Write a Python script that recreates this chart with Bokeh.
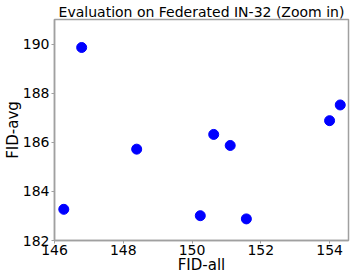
from bokeh.plotting import figure
from bokeh.models import Range1d, FixedTicker
from bokeh.embed import file_html
from bokeh.resources import INLINE

fid_all = [146.79, 146.27, 148.39, 150.63, 151.11, 150.24, 151.58, 154.00, 154.31]
fid_avg = [189.86, 183.27, 185.72, 186.32, 185.87, 183.01, 182.88, 186.88, 187.52]
x_ticks = [146, 148, 150, 152, 154]
y_ticks = [182, 184, 186, 188, 190]

FONT = "DejaVu Sans"
GREY = "#a0a0a0"

p = figure(width=355, height=279, output_backend="svg", toolbar_location=None,
           x_range=Range1d(146, 154.55), y_range=Range1d(182, 191.0),
           title="Evaluation on Federated IN-32 (Zoom in)",
           min_border_left=52, min_border_right=7, min_border_top=19, min_border_bottom=39)

p.title.text_font = FONT
p.title.text_font_size = "14px"
p.title.text_font_style = "normal"
p.title.text_color = "black"
p.title.align = "center"
p.title.standoff = 0
p.title.offset = 0

p.scatter(fid_all, fid_avg, size=10, color="#0000ff", line_color="#0000ff")

p.xgrid.visible = False
p.ygrid.visible = False
p.outline_line_color = GREY
p.outline_line_width = 1.5

for ax, ticks, label in ((p.xaxis[0], x_ticks, "FID-all"), (p.yaxis[0], y_ticks, "FID-avg")):
    ax.ticker = FixedTicker(ticks=ticks)
    ax.axis_label = label
    ax.axis_label_text_font = FONT
    ax.axis_label_text_font_size = "15px"
    ax.axis_label_text_font_style = "normal"
    ax.axis_label_text_color = "black"
    ax.axis_label_standoff = -2
    ax.major_label_text_font = FONT
    ax.major_label_text_font_size = "14px"
    ax.major_label_text_color = "black"
    ax.major_label_standoff = 1
    ax.major_tick_out = 3
    ax.major_tick_in = 0
    ax.major_tick_line_color = GREY
    ax.minor_tick_line_color = None
    ax.axis_line_color = GREY
    ax.axis_line_width = 1.5

p.yaxis[0].major_label_standoff = 2

open("out.html", "w").write(file_html(p, INLINE))
